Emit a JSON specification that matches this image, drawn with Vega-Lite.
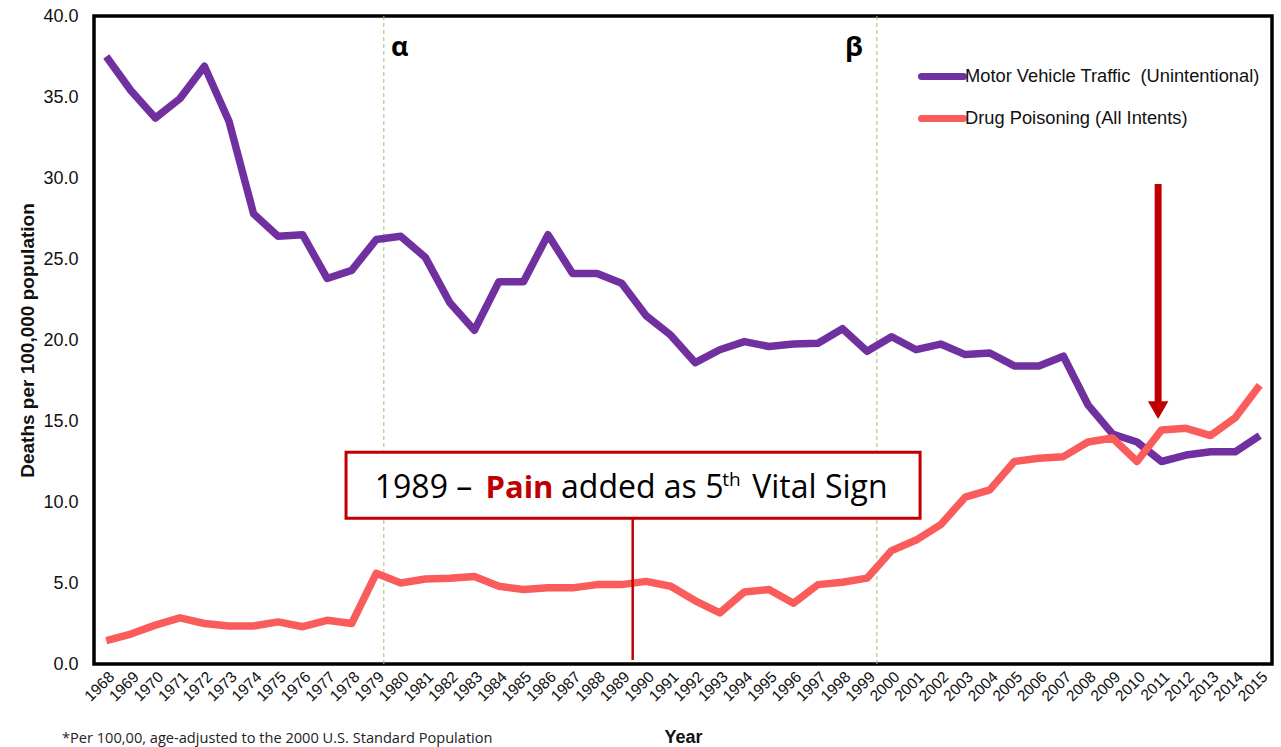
{
  "$schema": "https://vega.github.io/schema/vega-lite/v6.json",
  "width": 1178,
  "height": 648,
  "autosize": {"type": "none"},
  "padding": {"left": 94, "top": 16, "right": 9, "bottom": 83},
  "background": "white",
  "config": {
    "view": {"stroke": "black", "strokeWidth": 3.5},
    "font": "Liberation Sans"
  },
  "title": {
    "text": "*Per 100,00, age-adjusted to the 2000 U.S. Standard Population",
    "orient": "bottom",
    "anchor": "start",
    "frame": "group",
    "dx": -32,
    "offset": -15,
    "font": "Open Sans",
    "fontSize": 14.6,
    "fontWeight": "normal",
    "color": "#222222"
  },
  "datasets": {
    "series": [
      {"year": 1968, "series": "Motor Vehicle Traffic \u00a0(Unintentional)", "value": 37.5},
      {"year": 1969, "series": "Motor Vehicle Traffic \u00a0(Unintentional)", "value": 35.4},
      {"year": 1970, "series": "Motor Vehicle Traffic \u00a0(Unintentional)", "value": 33.7},
      {"year": 1971, "series": "Motor Vehicle Traffic \u00a0(Unintentional)", "value": 34.9},
      {"year": 1972, "series": "Motor Vehicle Traffic \u00a0(Unintentional)", "value": 36.9},
      {"year": 1973, "series": "Motor Vehicle Traffic \u00a0(Unintentional)", "value": 33.5},
      {"year": 1974, "series": "Motor Vehicle Traffic \u00a0(Unintentional)", "value": 27.8},
      {"year": 1975, "series": "Motor Vehicle Traffic \u00a0(Unintentional)", "value": 26.4},
      {"year": 1976, "series": "Motor Vehicle Traffic \u00a0(Unintentional)", "value": 26.5},
      {"year": 1977, "series": "Motor Vehicle Traffic \u00a0(Unintentional)", "value": 23.8},
      {"year": 1978, "series": "Motor Vehicle Traffic \u00a0(Unintentional)", "value": 24.3},
      {"year": 1979, "series": "Motor Vehicle Traffic \u00a0(Unintentional)", "value": 26.2},
      {"year": 1980, "series": "Motor Vehicle Traffic \u00a0(Unintentional)", "value": 26.4},
      {"year": 1981, "series": "Motor Vehicle Traffic \u00a0(Unintentional)", "value": 25.1},
      {"year": 1982, "series": "Motor Vehicle Traffic \u00a0(Unintentional)", "value": 22.3},
      {"year": 1983, "series": "Motor Vehicle Traffic \u00a0(Unintentional)", "value": 20.6},
      {"year": 1984, "series": "Motor Vehicle Traffic \u00a0(Unintentional)", "value": 23.6},
      {"year": 1985, "series": "Motor Vehicle Traffic \u00a0(Unintentional)", "value": 23.6},
      {"year": 1986, "series": "Motor Vehicle Traffic \u00a0(Unintentional)", "value": 26.5},
      {"year": 1987, "series": "Motor Vehicle Traffic \u00a0(Unintentional)", "value": 24.1},
      {"year": 1988, "series": "Motor Vehicle Traffic \u00a0(Unintentional)", "value": 24.1},
      {"year": 1989, "series": "Motor Vehicle Traffic \u00a0(Unintentional)", "value": 23.5},
      {"year": 1990, "series": "Motor Vehicle Traffic \u00a0(Unintentional)", "value": 21.5},
      {"year": 1991, "series": "Motor Vehicle Traffic \u00a0(Unintentional)", "value": 20.3},
      {"year": 1992, "series": "Motor Vehicle Traffic \u00a0(Unintentional)", "value": 18.6},
      {"year": 1993, "series": "Motor Vehicle Traffic \u00a0(Unintentional)", "value": 19.4},
      {"year": 1994, "series": "Motor Vehicle Traffic \u00a0(Unintentional)", "value": 19.9},
      {"year": 1995, "series": "Motor Vehicle Traffic \u00a0(Unintentional)", "value": 19.6},
      {"year": 1996, "series": "Motor Vehicle Traffic \u00a0(Unintentional)", "value": 19.75},
      {"year": 1997, "series": "Motor Vehicle Traffic \u00a0(Unintentional)", "value": 19.8},
      {"year": 1998, "series": "Motor Vehicle Traffic \u00a0(Unintentional)", "value": 20.7},
      {"year": 1999, "series": "Motor Vehicle Traffic \u00a0(Unintentional)", "value": 19.3},
      {"year": 2000, "series": "Motor Vehicle Traffic \u00a0(Unintentional)", "value": 20.2},
      {"year": 2001, "series": "Motor Vehicle Traffic \u00a0(Unintentional)", "value": 19.4},
      {"year": 2002, "series": "Motor Vehicle Traffic \u00a0(Unintentional)", "value": 19.75},
      {"year": 2003, "series": "Motor Vehicle Traffic \u00a0(Unintentional)", "value": 19.1},
      {"year": 2004, "series": "Motor Vehicle Traffic \u00a0(Unintentional)", "value": 19.2},
      {"year": 2005, "series": "Motor Vehicle Traffic \u00a0(Unintentional)", "value": 18.4},
      {"year": 2006, "series": "Motor Vehicle Traffic \u00a0(Unintentional)", "value": 18.4},
      {"year": 2007, "series": "Motor Vehicle Traffic \u00a0(Unintentional)", "value": 19.0},
      {"year": 2008, "series": "Motor Vehicle Traffic \u00a0(Unintentional)", "value": 16.0},
      {"year": 2009, "series": "Motor Vehicle Traffic \u00a0(Unintentional)", "value": 14.2},
      {"year": 2010, "series": "Motor Vehicle Traffic \u00a0(Unintentional)", "value": 13.7},
      {"year": 2011, "series": "Motor Vehicle Traffic \u00a0(Unintentional)", "value": 12.5},
      {"year": 2012, "series": "Motor Vehicle Traffic \u00a0(Unintentional)", "value": 12.9},
      {"year": 2013, "series": "Motor Vehicle Traffic \u00a0(Unintentional)", "value": 13.1},
      {"year": 2014, "series": "Motor Vehicle Traffic \u00a0(Unintentional)", "value": 13.1},
      {"year": 2015, "series": "Motor Vehicle Traffic \u00a0(Unintentional)", "value": 14.1},
      {"year": 1968, "series": "Drug Poisoning (All Intents)", "value": 1.45},
      {"year": 1969, "series": "Drug Poisoning (All Intents)", "value": 1.85},
      {"year": 1970, "series": "Drug Poisoning (All Intents)", "value": 2.4},
      {"year": 1971, "series": "Drug Poisoning (All Intents)", "value": 2.85},
      {"year": 1972, "series": "Drug Poisoning (All Intents)", "value": 2.5},
      {"year": 1973, "series": "Drug Poisoning (All Intents)", "value": 2.35},
      {"year": 1974, "series": "Drug Poisoning (All Intents)", "value": 2.35},
      {"year": 1975, "series": "Drug Poisoning (All Intents)", "value": 2.6},
      {"year": 1976, "series": "Drug Poisoning (All Intents)", "value": 2.3},
      {"year": 1977, "series": "Drug Poisoning (All Intents)", "value": 2.7},
      {"year": 1978, "series": "Drug Poisoning (All Intents)", "value": 2.5},
      {"year": 1979, "series": "Drug Poisoning (All Intents)", "value": 5.6},
      {"year": 1980, "series": "Drug Poisoning (All Intents)", "value": 5.0},
      {"year": 1981, "series": "Drug Poisoning (All Intents)", "value": 5.25},
      {"year": 1982, "series": "Drug Poisoning (All Intents)", "value": 5.3},
      {"year": 1983, "series": "Drug Poisoning (All Intents)", "value": 5.4},
      {"year": 1984, "series": "Drug Poisoning (All Intents)", "value": 4.8},
      {"year": 1985, "series": "Drug Poisoning (All Intents)", "value": 4.6},
      {"year": 1986, "series": "Drug Poisoning (All Intents)", "value": 4.7},
      {"year": 1987, "series": "Drug Poisoning (All Intents)", "value": 4.7},
      {"year": 1988, "series": "Drug Poisoning (All Intents)", "value": 4.9},
      {"year": 1989, "series": "Drug Poisoning (All Intents)", "value": 4.9},
      {"year": 1990, "series": "Drug Poisoning (All Intents)", "value": 5.1},
      {"year": 1991, "series": "Drug Poisoning (All Intents)", "value": 4.8},
      {"year": 1992, "series": "Drug Poisoning (All Intents)", "value": 3.9},
      {"year": 1993, "series": "Drug Poisoning (All Intents)", "value": 3.15},
      {"year": 1994, "series": "Drug Poisoning (All Intents)", "value": 4.45},
      {"year": 1995, "series": "Drug Poisoning (All Intents)", "value": 4.6},
      {"year": 1996, "series": "Drug Poisoning (All Intents)", "value": 3.75},
      {"year": 1997, "series": "Drug Poisoning (All Intents)", "value": 4.9},
      {"year": 1998, "series": "Drug Poisoning (All Intents)", "value": 5.05},
      {"year": 1999, "series": "Drug Poisoning (All Intents)", "value": 5.3},
      {"year": 2000, "series": "Drug Poisoning (All Intents)", "value": 7.0},
      {"year": 2001, "series": "Drug Poisoning (All Intents)", "value": 7.65},
      {"year": 2002, "series": "Drug Poisoning (All Intents)", "value": 8.6},
      {"year": 2003, "series": "Drug Poisoning (All Intents)", "value": 10.3},
      {"year": 2004, "series": "Drug Poisoning (All Intents)", "value": 10.75},
      {"year": 2005, "series": "Drug Poisoning (All Intents)", "value": 12.5},
      {"year": 2006, "series": "Drug Poisoning (All Intents)", "value": 12.7},
      {"year": 2007, "series": "Drug Poisoning (All Intents)", "value": 12.8},
      {"year": 2008, "series": "Drug Poisoning (All Intents)", "value": 13.7},
      {"year": 2009, "series": "Drug Poisoning (All Intents)", "value": 13.95},
      {"year": 2010, "series": "Drug Poisoning (All Intents)", "value": 12.5},
      {"year": 2011, "series": "Drug Poisoning (All Intents)", "value": 14.45},
      {"year": 2012, "series": "Drug Poisoning (All Intents)", "value": 14.55},
      {"year": 2013, "series": "Drug Poisoning (All Intents)", "value": 14.1},
      {"year": 2014, "series": "Drug Poisoning (All Intents)", "value": 15.2},
      {"year": 2015, "series": "Drug Poisoning (All Intents)", "value": 17.2}
    ]
  },
  "encoding": {
    "x": {
      "field": "year",
      "type": "quantitative",
      "title": "Year",
      "scale": {"domain": [1967.5, 2015.5], "nice": false, "zero": false},
      "axis": {
        "values": [1968, 1969, 1970, 1971, 1972, 1973, 1974, 1975, 1976, 1977, 1978, 1979, 1980, 1981, 1982, 1983, 1984, 1985, 1986, 1987, 1988, 1989, 1990, 1991, 1992, 1993, 1994, 1995, 1996, 1997, 1998, 1999, 2000, 2001, 2002, 2003, 2004, 2005, 2006, 2007, 2008, 2009, 2010, 2011, 2012, 2013, 2014, 2015],
        "format": "d",
        "labelAngle": -45,
        "labelFontSize": 15.5,
        "labelFont": "Liberation Sans",
        "labelColor": "#111111",
        "labelPadding": 5,
        "labelOverlap": false,
        "ticks": false,
        "domain": false,
        "grid": false,
        "titleFont": "Liberation Sans",
        "titleFontSize": 18,
        "titleFontWeight": "bold",
        "titleColor": "#111111",
        "titlePadding": 24
      }
    },
    "y": {
      "field": "value",
      "type": "quantitative",
      "title": "Deaths per 100,000 population",
      "scale": {"domain": [0, 40], "nice": false},
      "axis": {
        "values": [0, 5, 10, 15, 20, 25, 30, 35, 40],
        "format": ".1f",
        "labelFontSize": 18,
        "labelFont": "Liberation Sans",
        "labelColor": "#111111",
        "labelPadding": 16,
        "ticks": false,
        "domain": false,
        "grid": false,
        "titleFont": "Liberation Sans",
        "titleFontSize": 19,
        "titleFontWeight": "bold",
        "titleColor": "#111111",
        "titlePadding": 5
      }
    }
  },
  "layer": [
    {
      "data": {"values": [{"year": 1979.31, "value": 0, "value2": 40}, {"year": 1999.4, "value": 0, "value2": 40}]},
      "mark": {"type": "rule", "color": "#A3BE72", "strokeDash": [4, 3], "strokeWidth": 1},
      "encoding": {
        "y2": {"field": "value2"}
      }
    },
    {
      "data": {"values": [{"year": 1979.96, "value": 38.0, "t": "α"}, {"year": 1998.46, "value": 38.0, "t": "β"}]},
      "mark": {"type": "text", "font": "Open Sans", "fontSize": 27, "fontWeight": "bold", "color": "black", "align": "center", "baseline": "middle"},
      "encoding": {
        "text": {"field": "t"}
      }
    },
    {
      "data": {"name": "series"},
      "mark": {"type": "line", "strokeWidth": 7.5, "strokeJoin": "round"},
      "encoding": {
        "color": {
          "field": "series",
          "type": "nominal",
          "scale": {
            "domain": ["Motor Vehicle Traffic \u00a0(Unintentional)", "Drug Poisoning (All Intents)"],
            "range": ["#7030A0", "#FA5C5C"]
          },
          "legend": {
            "orient": "none",
            "legendX": 824,
            "legendY": 36,
            "title": null,
            "symbolType": "stroke",
            "symbolSize": 1764,
            "symbolStrokeWidth": 7,
            "labelFontSize": 18.3,
            "labelFont": "Liberation Sans",
            "labelColor": "#111111",
            "labelOffset": -2,
            "rowPadding": 3,
            "labelLimit": 400,
            "encode": {"symbols": {"update": {"strokeCap": {"value": "round"}}}}
          }
        }
      }
    },
    {
      "data": {"values": [{"year": 1989.45, "value": 8.99, "value2": 0.25}]},
      "mark": {"type": "rule", "color": "#C00000", "strokeWidth": 2.5},
      "encoding": {
        "y2": {"field": "value2"}
      }
    },
    {
      "data": {"values": [{"year": 1977.77, "year2": 2001.16, "value": 13.07, "value2": 8.99}]},
      "mark": {"type": "rect", "fill": "white", "stroke": "#C00000", "strokeWidth": 3},
      "encoding": {
        "x2": {"field": "year2"},
        "y2": {"field": "value2"}
      }
    },
    {
      "data": {"values": [
        {"year": 1978.94, "value": 10.25, "t": "1989 –"},
        {"year": 1986.53, "value": 10.25, "t": "added as 5"},
        {"year": 1994.32, "value": 10.25, "t": "Vital Sign"}
      ]},
      "mark": {"type": "text", "font": "Open Sans", "fontSize": 32, "color": "black", "align": "left", "baseline": "alphabetic"},
      "encoding": {
        "text": {"field": "t"}
      }
    },
    {
      "data": {"values": [{"year": 1983.45, "value": 10.25, "t": "Pain"}]},
      "mark": {"type": "text", "font": "Open Sans", "fontSize": 31, "fontWeight": "bold", "color": "#C00000", "align": "left", "baseline": "alphabetic"},
      "encoding": {
        "text": {"field": "t"}
      }
    },
    {
      "data": {"values": [{"year": 1993.1, "value": 11.0, "t": "th"}]},
      "mark": {"type": "text", "font": "Open Sans", "fontSize": 19, "color": "black", "align": "left", "baseline": "alphabetic"},
      "encoding": {
        "text": {"field": "t"}
      }
    },
    {
      "data": {"values": [{"year": 2010.86, "value": 29.63, "value2": 16.1}]},
      "mark": {"type": "rule", "color": "#C00000", "strokeWidth": 7},
      "encoding": {
        "y2": {"field": "value2"}
      }
    },
    {
      "data": {"values": [{"year": 2010.86, "value": 15.67}]},
      "mark": {"type": "point", "shape": "triangle-down", "filled": true, "color": "#C00000", "size": 420, "opacity": 1}
    }
  ]
}
